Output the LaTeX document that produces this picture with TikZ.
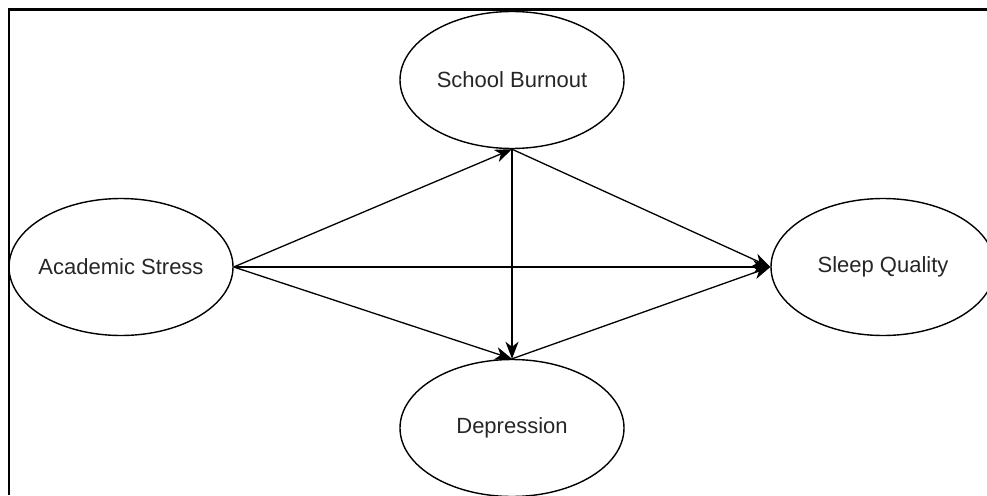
\documentclass[tikz,border=0pt]{standalone}
\usepackage{fontspec}
\setmainfont{Liberation Sans}
\usetikzlibrary{shapes.geometric,arrows.meta}
\begin{document}
\begin{tikzpicture}[x=1pt,y=-1pt,
  construct/.style={draw,ellipse,line width=1.4pt,minimum width=224pt,minimum height=137pt,inner xsep=-20pt,inner ysep=0pt,font=\fontsize{22}{25}\selectfont,text=black!85},
  path/.style={line width=1.3pt,-{Stealth[length=17pt,width=13pt,inset=5pt]}},
  frame/.style={line width=2.5pt}]
\useasboundingbox (0,0) rectangle (987,495);
\clip (0,0) rectangle (987,495);
\draw[frame] (9,495) -- (9,9.5) -- (987,9.5);
\node[construct] (sb) at (512,80) {School Burnout};
\node[construct] (as) at (121,267) {Academic Stress};
\node[construct] (sq) at (883,267) {Sleep Quality};
\node[construct] (dep) at (512,428) {Depression};
\draw[path] (as.east) -- (sb.south);
\draw[path] (as.east) -- (dep.north);
\draw[path] (as.east) -- (sq.west);
\draw[path] (sb.south) -- (sq.west);
\draw[path] (dep.north) -- (sq.west);
\draw[path] (sb.south) -- (dep.north);
\end{tikzpicture}
\end{document}
